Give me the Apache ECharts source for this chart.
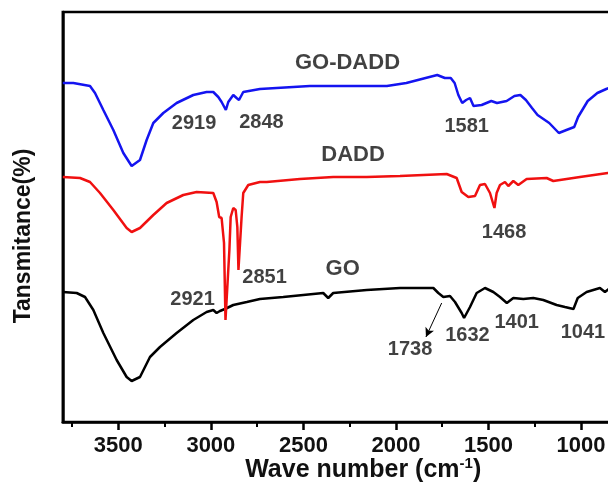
<!DOCTYPE html>
<html><head><meta charset="utf-8">
<script src="https://cdn.jsdelivr.net/npm/echarts@6/dist/echarts.min.js"></script>
<style>html,body{margin:0;padding:0;background:#fff}#c{width:608px;height:483px}</style>
</head><body><div id="c"></div>
<script>
// Wavenumber (cm-1) and transmittance (arbitrary, offset)
const goDaddWave = [3800,3743,3653,3626,3581,3527,3473,3428,3383,3347,3311,3257,3185,3095,3023,2987,2960,2942,2919,2906,2879,2861,2848,2825,2735,2555,2465,2049,1944,1840,1777,1736,1704,1683,1663,1642,1621,1600,1581,1537,1485,1454,1402,1360,1328,1298,1265,1235,1172,1120,1079,1037,1016,964,912,864,817];
const goDaddT    = [339,339,336,329,312,292,269,256,262,282,299,309,319,327,330,330,325,320,312,320,327,324,322,330,333,335,336,336,339,344,347,344,344,339,327,319,322,324,316,317,321,319,321,326,327,322,314,307,299,289,292,295,305,321,329,333,336];

const daddWave = [3800,3707,3653,3599,3527,3455,3428,3383,3311,3239,3149,3077,2987,2969,2955,2942,2929,2921,2900,2893,2879,2866,2857,2851,2834,2825,2798,2735,2698,2519,2339,2158,1978,1726,1672,1645,1609,1573,1546,1519,1492,1468,1456,1438,1411,1393,1366,1339,1294,1186,1150,1006,855,817];
const daddT    = [245,244,240,229,212,194,190,194,207,219,227,230,229,220,205,204,179,102,172,205,214,212,195,152,205,229,237,240,240,243,245,245,246,248,244,230,225,226,237,238,229,214,229,237,240,236,241,237,243,244,241,245,249,250];

const goWave = [3800,3725,3680,3635,3581,3509,3455,3428,3383,3329,3275,3185,3095,3023,2987,2969,2951,2924,2879,2806,2735,2609,2393,2366,2339,2158,1978,1798,1771,1744,1708,1681,1645,1632,1600,1564,1519,1474,1438,1401,1366,1312,1258,1204,1132,1087,1041,1018,970,898,871,844,817];
const goT    = [130,129,125,112,89,62,45,41,45,65,75,89,102,110,112,109,111,113,117,120,123,125,129,124,129,132,134,134,129,125,126,120,109,104,115,129,134,130,125,119,124,123,124,122,117,115,113,124,130,134,130,134,134];

const majorTicks = [3500,3000,2500,2000,1500,1000,500];
const minorTicks = [3750,3250,2750,2250,1750,1250,750];

// annotation texts and their anchor positions in data units
const annoText = ['GO-DADD','2919','2848','1581','DADD','1468','2851','GO','2921','1738','1632','1401','1041'];
const annoWave = [2262,3091,2727,1618,2232,1416,2710,2288,3099,1924,1614,1348,990];
const annoT    = [359,299,300,296,267,189.5,144.5,153,123,73,87,99.5,89.5];
const annoSize = [22,20,20,20,22,20,20,22,20,20,20,20,20];
const arrowFrom = [1753,119];
const arrowTo   = [1838,85];

const zip = (a,b) => a.map((v,i)=>[v,b[i]]);
const FONT = '"Liberation Sans", Arial, sans-serif';

const chart = echarts.init(document.getElementById('c'), null, {renderer:'canvas'});
chart.setOption({
  animation:false,
  backgroundColor:'#fff',
  grid:{left:62.8, right:-65.6, top:12, bottom:61, containLabel:false, outerBoundsMode:'none',
        show:true, borderColor:'#000', borderWidth:2.5, backgroundColor:'transparent'},
  xAxis:[{
    type:'value', min:500, max:3800, inverse:true,
    axisLine:{show:true, lineStyle:{color:'#000', width:2.5}},
    axisTick:{show:true, customValues:majorTicks, length:8, lineStyle:{color:'#000', width:2.5}},
    axisLabel:{show:true, customValues:majorTicks, margin:13, color:'#111', fontSize:22, fontWeight:'bold', fontFamily:FONT,
      formatter:v=>String(v)},
    splitLine:{show:false},
    name:'{m|Wave number (cm}{s|-1}{m|)}', nameLocation:'middle', nameGap:34, nameMoveOverlap:false,
    nameTextStyle:{color:'#111', fontFamily:FONT, fontWeight:'bold', fontSize:25, padding:[0,10,0,0],
      rich:{m:{fontSize:25, fontWeight:'bold', fontFamily:FONT, color:'#111'},
            s:{fontSize:15, fontWeight:'bold', fontFamily:FONT, color:'#111', padding:[0,0,14,0]}}}
  },{
    type:'value', min:500, max:3800, inverse:true, position:'bottom',
    axisLine:{show:false},
    axisTick:{show:true, customValues:minorTicks, length:5, lineStyle:{color:'#000', width:2}},
    axisLabel:{show:false}, splitLine:{show:false}
  }],
  yAxis:{
    type:'value', min:0, max:410,
    axisLine:{show:true, lineStyle:{color:'#000', width:2.5}},
    axisTick:{show:false}, axisLabel:{show:false}, splitLine:{show:false}
  },
  graphic:[{
    type:'text', x:24, y:236, rotation:Math.PI/2,
    style:{text:'Tansmitance(%)', font:'bold 23px ' + FONT, fill:'#111', align:'center', verticalAlign:'middle'}
  }],
  series:[
    {name:'GO-DADD', type:'line', data:zip(goDaddWave,goDaddT), showSymbol:false, symbol:'none', lineStyle:{color:'#1414f0', width:2.5}, z:3},
    {name:'GO', type:'line', data:zip(goWave,goT), showSymbol:false, symbol:'none', lineStyle:{color:'#000', width:2.5}, z:3},
    {name:'DADD', type:'line', data:zip(daddWave,daddT), showSymbol:false, symbol:'none', lineStyle:{color:'#f01010', width:2.5}, z:4,
      markLine:{silent:true, symbol:['none','arrow'], symbolSize:[7,9], label:{show:false},
        lineStyle:{color:'#000', width:1, type:'solid'},
        data:[[{coord:arrowFrom},{coord:arrowTo}]]}},
    {name:'labels', type:'scatter', symbol:'circle', symbolSize:1, itemStyle:{color:'rgba(0,0,0,0)'}, z:5,
      data:annoText.map((t,i)=>({name:t, value:[annoWave[i],annoT[i]],
        label:{show:true, position:'inside', formatter:'{b}', color:'#111', fontSize:annoSize[i], fontWeight:'bold', fontFamily:FONT, align:'center', verticalAlign:'middle'}})) }
  ]
});
</script></body></html>
